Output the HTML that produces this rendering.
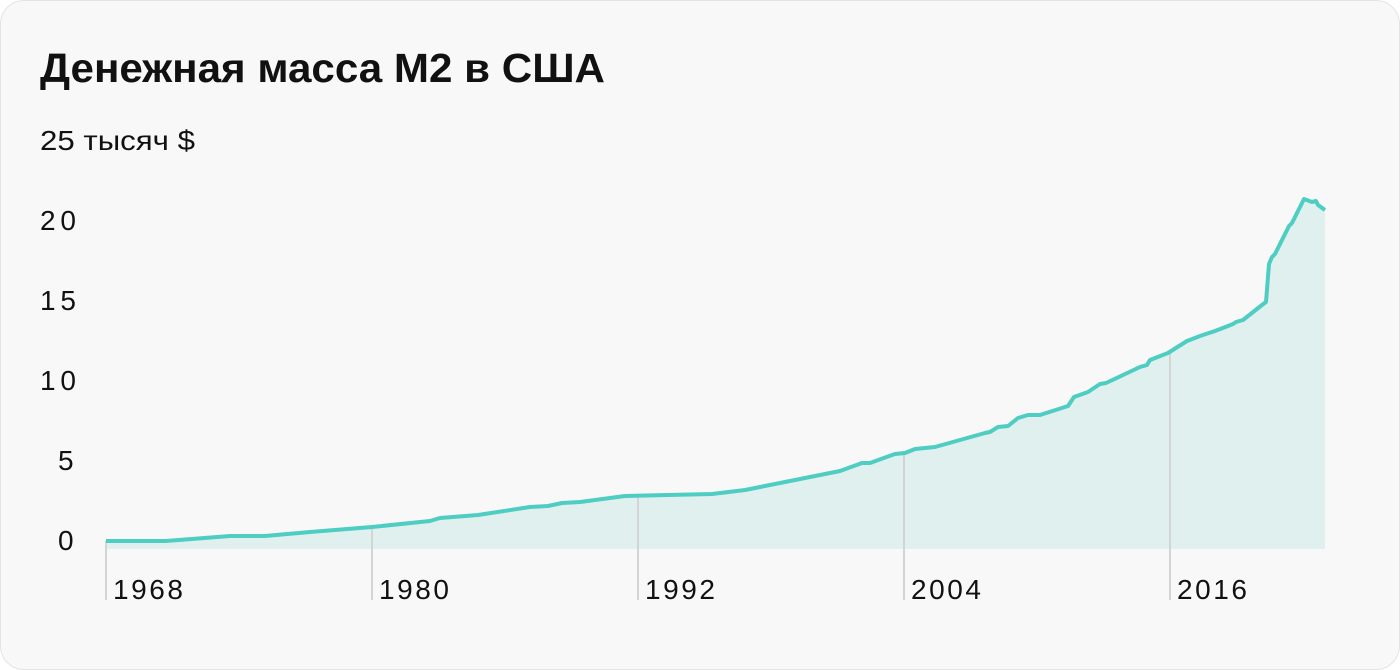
<!DOCTYPE html>
<html><head><meta charset="utf-8"><style>
html,body{margin:0;padding:0;background:#fff;}
.card{position:absolute;left:0;top:0;width:1398px;height:668px;border:1px solid #e4e4e4;border-radius:24px;background:#f8f8f8;}
svg{position:absolute;left:0;top:0;}
text{font-family:"Liberation Sans",sans-serif;fill:#111;}
</style></head><body>
<div class="card"></div>
<svg width="1400" height="670">
<text x="40" y="82" font-size="41" font-weight="bold" textLength="565" lengthAdjust="spacingAndGlyphs">Денежная масса M2 в США</text>
<g font-size="28">
<text x="40" y="150" textLength="155" lengthAdjust="spacingAndGlyphs">25 тысяч $</text>
<text x="40" y="230" textLength="36">20</text>
<text x="40" y="310" textLength="36">15</text>
<text x="40" y="390" textLength="36">10</text>
<text x="58" y="470">5</text>
<text x="58" y="550">0</text>
</g>
<polygon fill="#dff0ef" points="106,549 106,541 166,541 230,536 265,536 310,532 372,527 430,521 440,518 478,515 530,507 548,506 562,503 580,502 625,496 712,494 745,490 790,481 840,471 862,463 870,463 895,454 905,453 915,449 935,447 985,433 990,432 998,427 1008,426 1018,418 1028,415 1040,415 1068,406 1074,397 1088,392 1100,384 1106,383 1140,367 1147,365 1150,360 1168,353 1187,341 1200,336 1215,331 1228,326 1233,324 1236,322 1243,320 1262,305 1266,302 1269,264 1272,257 1275,254 1289,226 1292,223 1304,199 1312,202 1316,201 1318,205 1325,210 1325,549"/>
<g stroke="#d4d4d4" stroke-width="2">
<line x1="106" y1="541" x2="106" y2="600"/>
<line x1="372" y1="527" x2="372" y2="600"/>
<line x1="638" y1="496" x2="638" y2="600"/>
<line x1="904" y1="453" x2="904" y2="600"/>
<line x1="1170" y1="352" x2="1170" y2="600"/>
</g>
<polyline fill="none" stroke="#4ecdc2" stroke-width="4" stroke-linejoin="round" points="106,541 166,541 230,536 265,536 310,532 372,527 430,521 440,518 478,515 530,507 548,506 562,503 580,502 625,496 712,494 745,490 790,481 840,471 862,463 870,463 895,454 905,453 915,449 935,447 985,433 990,432 998,427 1008,426 1018,418 1028,415 1040,415 1068,406 1074,397 1088,392 1100,384 1106,383 1140,367 1147,365 1150,360 1168,353 1187,341 1200,336 1215,331 1228,326 1233,324 1236,322 1243,320 1262,305 1266,302 1269,264 1272,257 1275,254 1289,226 1292,223 1304,199 1312,202 1316,201 1318,205 1325,210"/>
<g font-size="28">
<text x="113" y="599" textLength="70">1968</text>
<text x="379" y="599" textLength="70">1980</text>
<text x="645" y="599" textLength="70">1992</text>
<text x="911" y="599" textLength="70">2004</text>
<text x="1177" y="599" textLength="70">2016</text>
</g>
</svg>
</body></html>
